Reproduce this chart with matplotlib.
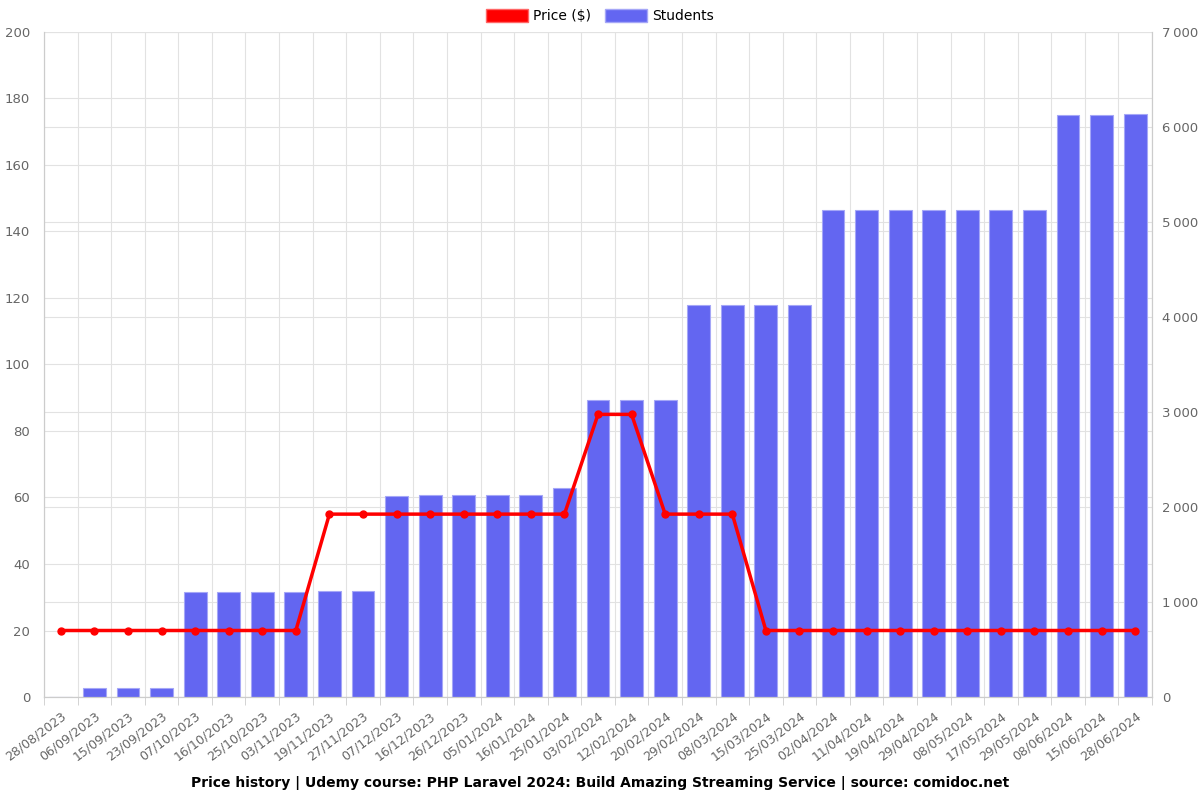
import numpy as np
import matplotlib
matplotlib.use('Agg')
import matplotlib.pyplot as plt
from matplotlib.patches import Patch
from matplotlib.ticker import FuncFormatter, FixedLocator

dates = ['28/08/2023', '06/09/2023', '15/09/2023', '23/09/2023', '07/10/2023',
         '16/10/2023', '25/10/2023', '03/11/2023', '19/11/2023', '27/11/2023',
         '07/12/2023', '16/12/2023', '26/12/2023', '05/01/2024', '16/01/2024',
         '25/01/2024', '03/02/2024', '12/02/2024', '20/02/2024', '29/02/2024',
         '08/03/2024', '15/03/2024', '25/03/2024', '02/04/2024', '11/04/2024',
         '19/04/2024', '29/04/2024', '08/05/2024', '17/05/2024', '29/05/2024',
         '08/06/2024', '15/06/2024', '28/06/2024']
price = [20, 20, 20, 20, 20, 20, 20, 20, 55, 55,
         55, 55, 55, 55, 55, 55, 85, 85, 55, 55,
         55, 20, 20, 20, 20, 20, 20, 20, 20, 20,
         20, 20, 20]
students = [0, 95, 95, 95, 1105, 1105, 1108, 1108, 1115, 1118,
            2118, 2122, 2124, 2125, 2126, 2197, 3126, 3126, 3126, 4126,
            4127, 4127, 4130, 5128, 5128, 5129, 5129, 5129, 5130, 5130,
            6128, 6128, 6132]

price_ticks = np.arange(0, 201, 20)
student_ticks = np.arange(0, 7001, 1000)

bar_color = '#6366f1'
grid_color = '#e2e2e2'
tick_color = '#666666'

fig = plt.figure(figsize=(12, 8), dpi=100)
ax = fig.add_axes([0.0367, 0.12875, 0.9233, 0.83125])
ax2 = ax.twinx()

x = np.arange(len(dates))

# bars on the right axis (students)
ax2.bar(x, students, width=0.68, color=bar_color, edgecolor='#a5a7f7',
        linewidth=0.8, zorder=2)
ax2.set_ylim(0, 7000)
ax2.set_yticks(student_ticks)
ax2.yaxis.set_major_formatter(FuncFormatter(
    lambda v, p: '0' if v == 0 else f'{int(v):,}'.replace(',', '\u2009')))

# price line on the left axis, drawn above bars
ax.set_zorder(ax2.get_zorder() + 1)
ax.patch.set_visible(False)
ax.plot(x, price, color='#ff0000', linewidth=2.5, marker='o', markersize=5,
        zorder=5)
ax.set_ylim(0, 200)
ax.set_yticks(price_ticks)
ax.set_xlim(-0.5, len(dates) - 0.5)

# all grid lines behind the bars (left-axis grid mapped into ax2's scale)
for v in student_ticks:
    ax2.axhline(v, color=grid_color, linewidth=0.8, zorder=0)
for v in price_ticks:
    ax2.axhline(v * 7000 / 200, color=grid_color, linewidth=0.8, zorder=0)
bounds = np.arange(-0.5, len(dates), 1.0)
for b in bounds:
    ax2.axvline(b, color=grid_color, linewidth=0.8, zorder=0)

ax.set_xticks(x)
ax.set_xticklabels(dates, rotation=37, ha='right', rotation_mode='anchor')
ax.xaxis.set_minor_locator(FixedLocator(bounds))
ax.tick_params(axis='x', which='major', length=0, pad=9, labelsize=9,
               labelcolor=tick_color)
ax.tick_params(axis='x', which='minor', length=6, color='#cccccc')
ax.tick_params(axis='y', length=0, pad=10, labelsize=9.5, labelcolor=tick_color)
ax2.tick_params(axis='y', length=0, pad=7, labelsize=9.5, labelcolor=tick_color)

for a in (ax, ax2):
    a.spines['top'].set_visible(False)
    a.spines['left'].set_color('#cccccc')
    a.spines['right'].set_color('#cccccc')
    a.spines['bottom'].set_color('#cccccc')

handles = [Patch(facecolor='#ff0000', edgecolor='#ff6666', label='Price ($)'),
           Patch(facecolor=bar_color, edgecolor='#a5a7f7', label='Students')]
fig.legend(handles=handles, loc='upper center', bbox_to_anchor=(0.5, 1.005),
           ncol=2, frameon=False, fontsize=10, handlelength=3.0,
           handleheight=1.1, columnspacing=1.0, handletextpad=0.4)

fig.text(0.5, 0.021, 'Price history | Udemy course: PHP Laravel 2024: Build Amazing '
         'Streaming Service | source: comidoc.net', ha='center', va='center',
         fontsize=10, fontweight='bold')

fig.savefig('out.png', dpi=100)
